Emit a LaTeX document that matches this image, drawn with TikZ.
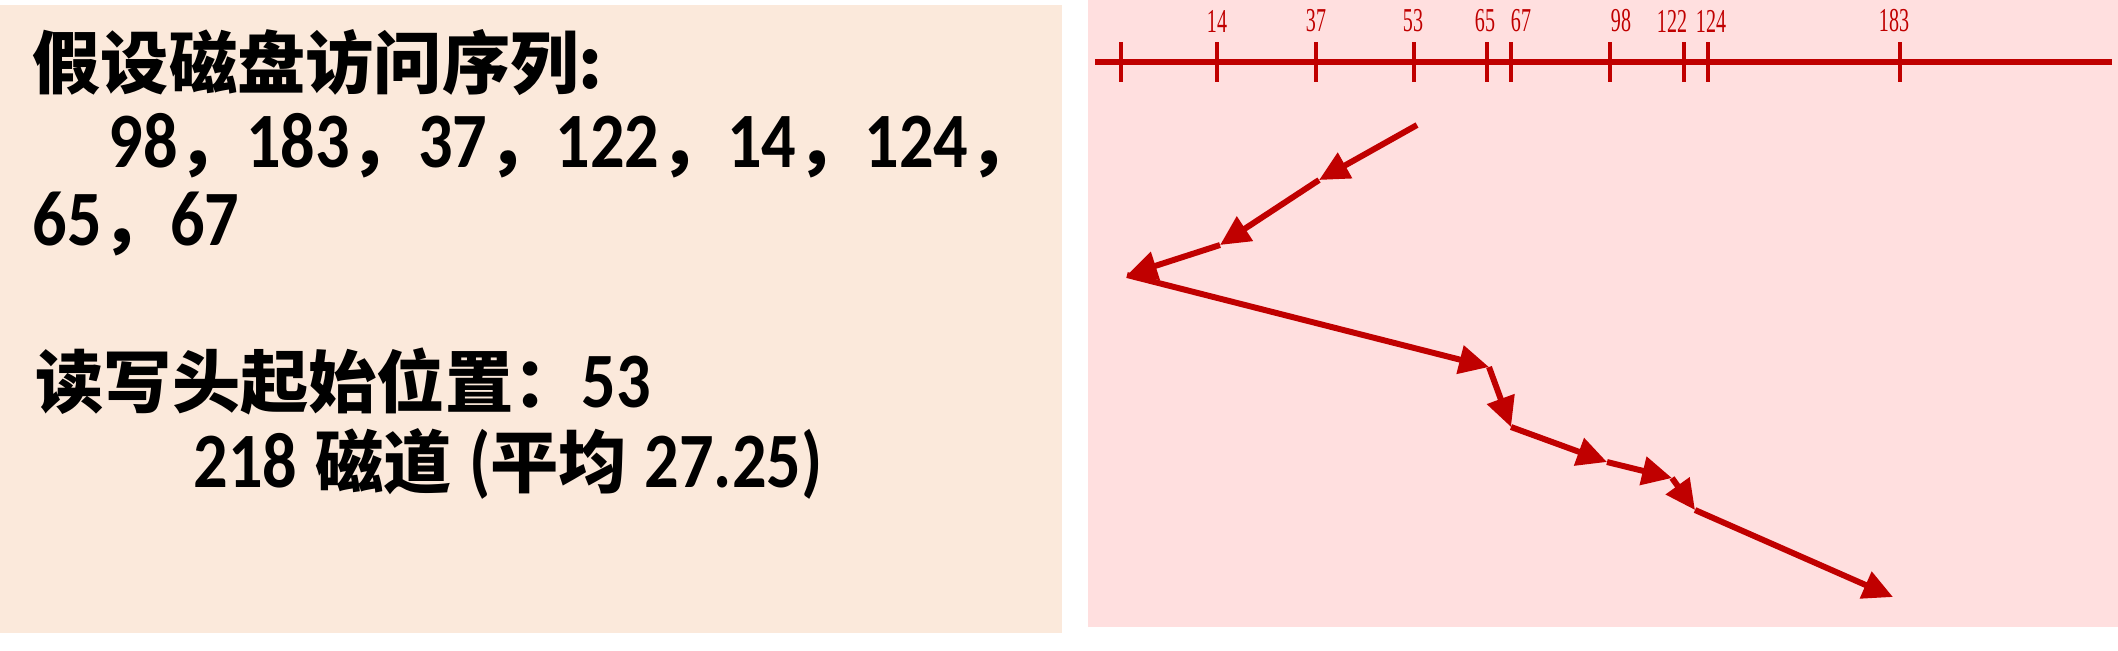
\documentclass[tikz,border=0pt]{standalone}
\usepackage{fontspec}
\setmainfont{Carlito}
\newfontfamily\cjk{Noto Sans CJK SC}
\newfontfamily\tickfont{Liberation Serif}
\usetikzlibrary{arrows.meta}

\definecolor{leftbg}{RGB}{251,233,219}
\definecolor{rightbg}{RGB}{255,223,223}
\definecolor{trackred}{RGB}{192,0,0}

\newcommand{\zh}[1]{{\fontsize{19.4pt}{24pt}\cjk\bfseries #1}}
\newcommand{\nm}[1]{\scalebox{0.87}[1]{#1}}

\begin{document}
\begin{tikzpicture}[x=0.01cm,y=-0.01cm]
      \tikzstyle{line}=[inner sep=0pt,anchor=base west,font=\fontsize{22.3pt}{26pt}\selectfont\bfseries]
      \tikzstyle{tick}=[trackred,line width=0.9pt]
      \tikzstyle{ticklabel}=[inner sep=0pt,trackred,font=\fontsize{9.5pt}{10pt}\tickfont]
      \tikzstyle{seek}=[trackred,line width=1.7pt,-{Triangle[length=8.5pt,width=8pt]}]

      \useasboundingbox (0,0) rectangle (2118,650);

      % request queue
      \begin{scope}
        \fill[leftbg] (0,5) rectangle (1062,633);
        \node[line](l1) at (32,88) {\zh{假设磁盘访问序列:}};
        \node[line](l2) at (108,167) {\nm{98}\zh{，}\nm{183}\zh{，}\nm{37}\zh{，}\nm{122}\zh{，}\nm{14}\zh{，}\nm{124}\zh{，}};
        \node[line](l3) at (32,245) {\nm{65}\zh{，}\nm{67}};
        \node[line](l4) at (35,407) {\zh{读写头起始位置：}\nm{53}};
        \node[line](l5) at (193,487) {\nm{218} \zh{磁道} \nm{(}\zh{平均} \nm{27.25)}};
      \end{scope}

      % track axis
      \begin{scope}
        \fill[rightbg] (1088,0) rectangle (2118,627);
        \draw[trackred,line width=1.5pt] (1095,62) -- (2112,62);
        \foreach \x in {1121,1217,1316,1414,1487,1511,1610,1684,1708,1900}
          \draw[tick] (\x,42) -- (\x,82);
        \foreach \x/\t in {1217/14,1316/37,1413/53,1485/65,1521/67,1621/98,1672/122,1711/124,1894/183}
          \node[ticklabel](t\t) at (\x,21) {\scalebox{0.6}[1]{\t}};
      \end{scope}

      % head movement
      \begin{scope}
        \coordinate (p53) at (1417,125);
        \coordinate (p37) at (1319,180);
        \coordinate (p14) at (1220,245);
        \coordinate (p0) at (1127,275);
        \coordinate (p65) at (1489,367);
        \coordinate (p67) at (1511,427);
        \coordinate (p98) at (1607,462);
        \coordinate (p122) at (1672,478);
        \coordinate (p124) at (1695,510);
        \coordinate (p183) at (1893,597);

        \draw[seek] (p53) -- (p37);
        \draw[seek] (p37) -- (p14);
        \draw[seek] (p14) -- (p0);
        \draw[seek] (p0) -- (p65);
        \draw[seek] (p65) -- (p67);
        \draw[seek] (p67) -- (p98);
        \draw[seek] (p98) -- (p122);
        \draw[seek] (p122) -- (p124);
        \draw[seek] (p124) -- (p183);
      \end{scope}
    \end{tikzpicture}
\end{document}
